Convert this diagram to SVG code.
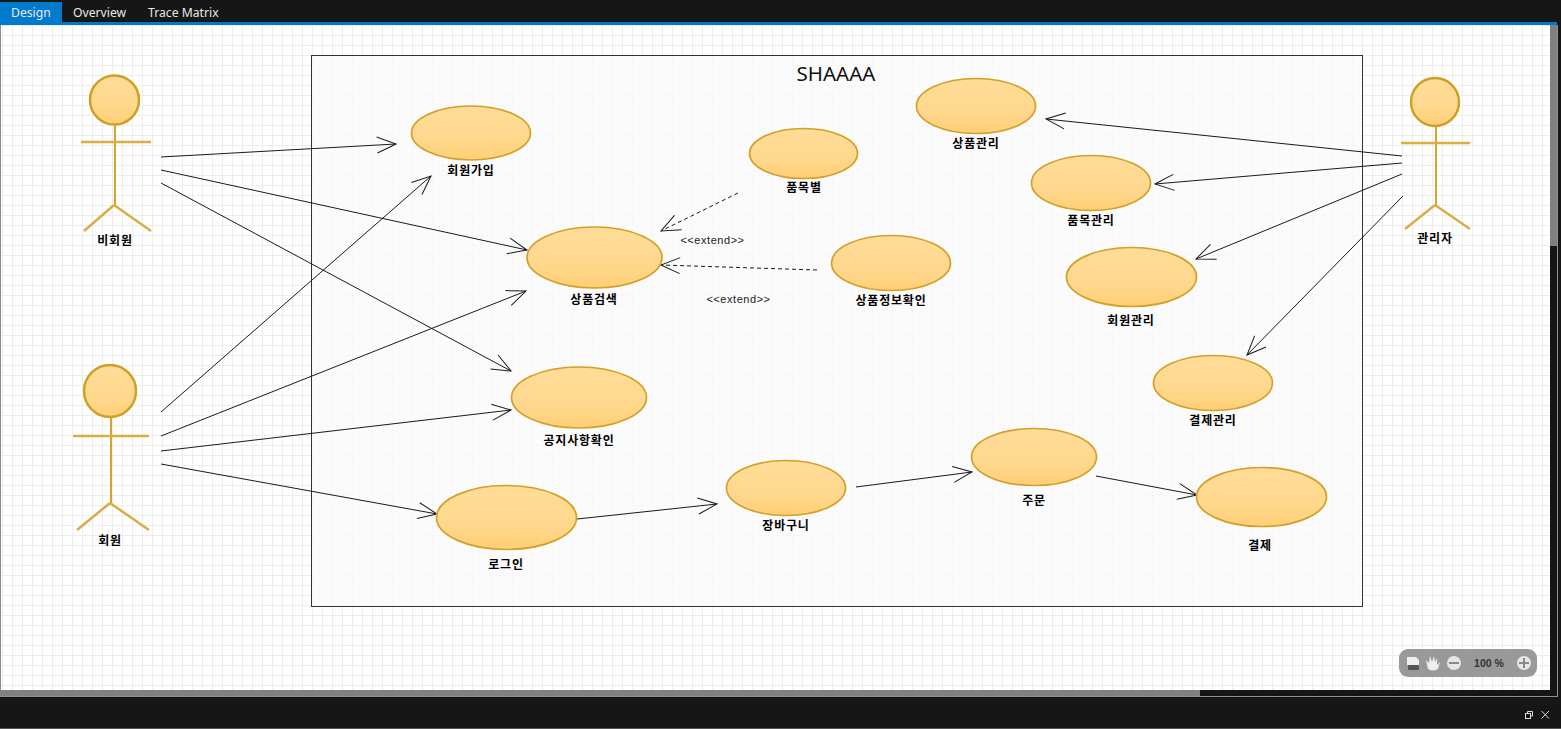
<svg xmlns="http://www.w3.org/2000/svg" width="1561" height="729" viewBox="0 0 1561 729">
<defs>
<pattern id="grid" x="2" y="25" width="10" height="10" patternUnits="userSpaceOnUse"><path d="M0.5 0V10M0 0.5H10" fill="none" stroke="#ededed" stroke-width="1.200"/></pattern>
<linearGradient id="uc" x1="0" y1="0" x2="0" y2="1"><stop offset="0" stop-color="#ffdc98"/><stop offset="0.6" stop-color="#ffd88e"/><stop offset="1" stop-color="#ffcf76"/></linearGradient>
<marker id="open" markerWidth="24" markerHeight="20" refX="22" refY="10" orient="auto" markerUnits="userSpaceOnUse"><path d="M3 2L22 10L3 18" fill="none" stroke="#1a1a1a" stroke-width="1"/></marker>
</defs>
<style>
.lbl{font-family:"Noto Sans CJK KR","Noto Sans",sans-serif;font-size:12px;font-weight:700;fill:#000;text-anchor:middle;letter-spacing:.8px}
.ext{font-family:"Liberation Sans",sans-serif;font-size:11px;fill:#222;text-anchor:middle;letter-spacing:.55px}
.tab{font-family:"Noto Sans","Liberation Sans",sans-serif;font-size:12.200px;fill:#e8e8e8}
ellipse.u{fill:url(#uc);stroke:#d2a128;stroke-width:1.700}
.act{fill:none;stroke:#d4a52c;stroke-width:2}
.limbs{stroke:#d9ae45;stroke-width:2.500}
.act circle{fill:url(#uc);stroke:#cfa028;stroke-width:2.500}
.c{fill:none;stroke:#1a1a1a;stroke-width:1;marker-end:url(#open)}
.d{stroke-dasharray:4 3}
</style>
<rect width="1561" height="729" fill="#161616"/>
<rect x="0" y="22" width="1557" height="3" fill="#007acc"/>
<rect x="0" y="2" width="62" height="21" fill="#007acc"/>
<text class="tab" x="11" y="17">Design</text>
<text class="tab" x="73" y="17">Overview</text>
<text class="tab" x="148" y="17">Trace Matrix</text>
<rect x="0" y="25" width="1550" height="665" fill="#ffffff"/>
<rect x="1" y="25" width="1549" height="665" fill="url(#grid)"/>
<rect x="0" y="25" width="1" height="665" fill="#8a8f99"/>
<rect x="1550" y="25" width="7" height="221" fill="#808080"/>
<rect x="1557" y="25" width="1" height="672" fill="#8a8f99"/>
<rect x="0" y="690" width="1200" height="6" fill="#808080"/>
<rect x="0" y="696" width="1558" height="1" fill="#8a8f99"/>
<rect x="0" y="728" width="1561" height="1" fill="#555"/>
<g id="boundary">
<rect x="311.500" y="55.500" width="1051" height="551" fill="#fafafa" fill-opacity="0.75" stroke="#333" stroke-width="1"/>
<text x="836" y="81" font-family="Noto Sans,Liberation Sans,sans-serif" font-size="20.500" text-anchor="middle" fill="#111">SHAAAA</text>
</g>
<g id="connectors">
<path class="c" d="M161 157L396 144"/>
<path class="c" d="M161 170L527 250"/>
<path class="c" d="M161 183L511 371"/>
<path class="c" d="M161 412L431 176"/>
<path class="c" d="M161 436L526 291"/>
<path class="c" d="M161 451L511 410"/>
<path class="c" d="M161 464L437 514"/>
<path class="c" d="M577 519L717 504"/>
<path class="c" d="M856 487L972 472"/>
<path class="c" d="M1096 476L1197 495"/>
<path class="c" d="M1402 156L1046 119"/>
<path class="c" d="M1402 163L1155 184"/>
<path class="c" d="M1402 174L1196 259"/>
<path class="c" d="M1403 196L1247 355"/>
<path class="c d" d="M738 193L661 231"/>
<path class="c d" d="M817 270L661 265"/>
<text class="ext" x="712.500" y="244">&lt;&lt;extend&gt;&gt;</text>
<text class="ext" x="738.500" y="303">&lt;&lt;extend&gt;&gt;</text>
</g>
<g id="actor-nonmember" class="act"><circle cx="114.500" cy="100" r="24.500"/><path d="M115 124V205"/><path class="limbs" d="M81 142H151M114 205L84 231M114 205L151 231"/><text class="lbl" x="115" y="245" stroke="none">비회원</text></g>
<g id="actor-member" class="act"><circle cx="110" cy="391" r="26"/><path d="M111 417V503"/><path class="limbs" d="M73 436H149M110 503L77 530M110 503L149 530"/><text class="lbl" x="110" y="545" stroke="none">회원</text></g>
<g id="actor-admin" class="act"><circle cx="1435" cy="102" r="24"/><path d="M1436 126V205"/><path class="limbs" d="M1401 143H1470M1435 205L1405 229M1435 205L1470 229"/><text class="lbl" x="1435" y="243" stroke="none">관리자</text></g>
<g id="uc-signup"><ellipse class="u" cx="471" cy="133" rx="59.500" ry="27"/><text class="lbl" x="471" y="175">회원가입</text></g>
<g id="uc-search"><ellipse class="u" cx="594.500" cy="257.500" rx="67.500" ry="30.500"/><text class="lbl" x="594" y="304">상품검색</text></g>
<g id="uc-notice"><ellipse class="u" cx="579" cy="397.500" rx="67.500" ry="30.500"/><text class="lbl" x="579" y="445">공지사항확인</text></g>
<g id="uc-login"><ellipse class="u" cx="506.500" cy="517.500" rx="70" ry="32"/><text class="lbl" x="506" y="569">로그인</text></g>
<g id="uc-category"><ellipse class="u" cx="803.500" cy="153.500" rx="54" ry="25"/><text class="lbl" x="804" y="192">품목별</text></g>
<g id="uc-productinfo"><ellipse class="u" cx="891" cy="263" rx="59.500" ry="27.500"/><text class="lbl" x="891" y="305">상품정보확인</text></g>
<g id="uc-productmgmt"><ellipse class="u" cx="976" cy="106" rx="59.500" ry="27.500"/><text class="lbl" x="976" y="148">상품관리</text></g>
<g id="uc-categorymgmt"><ellipse class="u" cx="1091" cy="183" rx="59.500" ry="27.500"/><text class="lbl" x="1091" y="225">품목관리</text></g>
<g id="uc-membermgmt"><ellipse class="u" cx="1131.500" cy="277" rx="65" ry="29.500"/><text class="lbl" x="1131" y="325">회원관리</text></g>
<g id="uc-paymgmt"><ellipse class="u" cx="1213" cy="383" rx="59.500" ry="27.500"/><text class="lbl" x="1213" y="425">결제관리</text></g>
<g id="uc-cart"><ellipse class="u" cx="786" cy="488" rx="59.500" ry="27.500"/><text class="lbl" x="786" y="530">장바구니</text></g>
<g id="uc-order"><ellipse class="u" cx="1034" cy="457" rx="62.500" ry="28.500"/><text class="lbl" x="1034" y="505">주문</text></g>
<g id="uc-pay"><ellipse class="u" cx="1261.500" cy="497" rx="65" ry="29.500"/><text class="lbl" x="1260" y="550">결제</text></g>
<g id="zoombar">
<rect x="1399" y="649" width="138" height="28" rx="9" fill="#999"/>
<path d="M1407 657H1416L1419 660V665H1407Z" fill="#eee"/><rect x="1408" y="665" width="11" height="5" rx="1" fill="#555"/>
<path d="M1428 669L1426 660L1429 663L1430 656L1432 662L1434 656L1435 662L1437 658L1437 665L1440 662L1438 669Q1433 672 1428 669Z" fill="#eee"/>
<circle cx="1454" cy="663" r="7" fill="#e6e6e6"/><rect x="1449" y="662" width="10" height="2" fill="#888"/>
<text x="1489" y="667" font-family="Liberation Sans,sans-serif" font-size="10.500" font-weight="700" text-anchor="middle" fill="#333">100 %</text>
<circle cx="1524" cy="663" r="7" fill="#e6e6e6"/><path d="M1519 663H1529M1524 658V668" stroke="#888" stroke-width="2"/>
</g>
<g id="window-buttons" fill="none" stroke="#ddd" stroke-width="1"><rect x="1525.500" y="713.500" width="5" height="5"/><path d="M1527.500 713V711.500H1532.500V716H1531"/><path d="M1541.500 711L1549 718.500M1549 711L1541.500 718.500"/></g>
</svg>
